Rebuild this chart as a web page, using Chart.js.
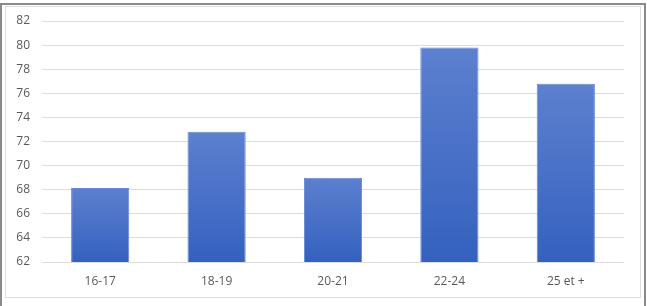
<!DOCTYPE html>
<html>
<head>
    <title>Bar chart</title>
    <style>
        body { margin: 0; background: #fff; }
        .frame { position: absolute; left: 0; top: 3px; width: 642px; height: 320px;
                 border: 2px solid #8a8a8a; border-bottom: none; }
        .inner { position: absolute; left: 5px; top: 6px; width: 634px; height: 290px;
                 border: 1px solid #dedede; }
        .wrap { position: absolute; left: 0; top: 0; width: 647px; height: 306px; }
    </style>
</head>
<body>
    <div class="frame"></div>
    <div class="inner"></div>
    <div class="wrap"><canvas id="myChart"></canvas></div>
<script src="https://cdn.jsdelivr.net/npm/chart.js"></script>
<script>
    const categories = ["16-17", "18-19", "20-21", "22-24", "25 et +"];
    const values = [68.15, 72.8, 69.0, 79.8, 76.8];
    const yTicks = [62, 64, 66, 68, 70, 72, 74, 76, 78, 80, 82];

    // per-bar vertical gradient, lighter at the top like the original
    function barGradient(context){
        const chart = context.chart;
        const yScale = chart.scales.y;
        if(!chart.chartArea || !yScale || context.raw === undefined){
            return '#4a71c8';
        }
        const top = yScale.getPixelForValue(context.raw);
        const bottom = yScale.getPixelForValue(yScale.min);
        if(!isFinite(top) || !isFinite(bottom)){
            return '#4a71c8';
        }
        const g = chart.ctx.createLinearGradient(0, top, 0, bottom);
        g.addColorStop(0, '#5d80cf');
        g.addColorStop(1, '#3461bf');
        return g;
    }

    const data = {
        labels: categories,
        datasets: [{
            data: values,
            backgroundColor: barGradient,
            borderColor: '#6586d0',
            borderWidth: 1,
            categoryPercentage: 0.5,
            barPercentage: 1.0
        }]
    };

    const config = {
        type: 'bar',
        data,
        options: {
            responsive: true,
            maintainAspectRatio: false,
            animation: false,
            layout: { padding: { top: 21, right: 23, bottom: 0, left: 0 } },
            plugins: {
                legend: { display: false },
                tooltip: { enabled: false }
            },
            scales: {
                x: {
                    grid: { display: false },
                    border: { display: false },
                    ticks: {
                        color: '#595959',
                        font: { family: 'Open Sans', size: 12 },
                        padding: 4
                    },
                    afterFit(scale){ scale.height = 44; }
                },
                y: {
                    min: 62,
                    max: 82,
                    afterBuildTicks(scale){
                        scale.ticks = yTicks.map(v => ({ value: v }));
                    },
                    grid: { color: '#dcdcdc', drawTicks: false },
                    border: { display: false },
                    ticks: {
                        color: '#595959',
                        font: { family: 'Open Sans', size: 12 },
                        padding: 12
                    },
                    afterFit(scale){ scale.width = 42; }
                }
            }
        }
    };
    new Chart(document.getElementById('myChart'), config);
</script>
</body>
</html>
